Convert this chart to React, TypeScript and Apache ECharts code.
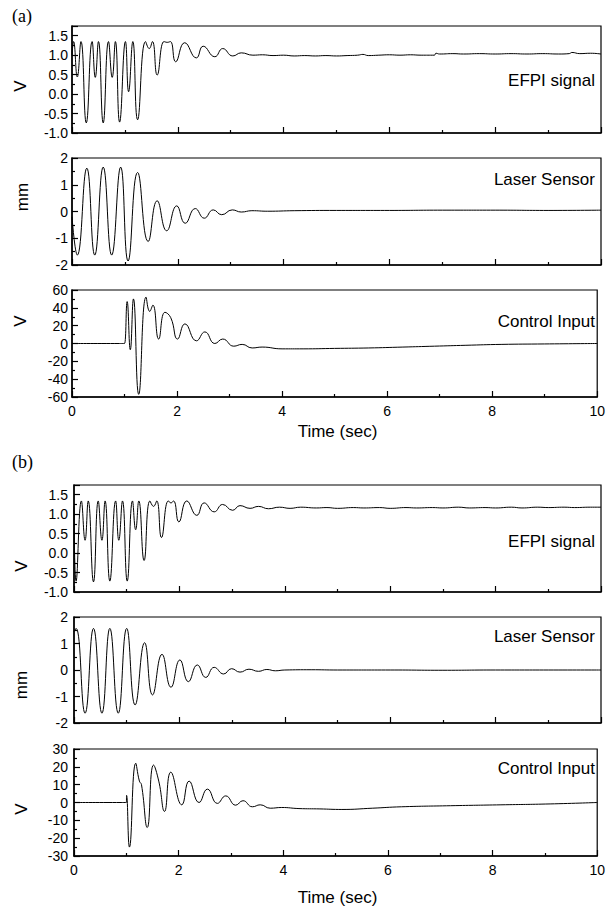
import React, { useEffect, useRef } from 'react';
import * as echarts from 'echarts';

// ---------- (a) EFPI signal ----------
const efpiA_t = [0, 0.03, 0.1, 0.17, 0.27, 0.38, 0.44, 0.5, 0.59, 0.69, 0.76, 0.82, 0.9, 1.01, 1.07, 1.15, 1.24, 1.39, 1.46, 1.52, 1.61, 1.74, 1.8, 1.86, 1.96, 2.13, 2.35, 2.48, 2.7, 2.85, 3.04, 3.2, 3.42, 3.6, 3.8, 4.0, 4.2, 4.4, 4.6, 4.8, 5.0, 5.2, 5.4, 5.5, 5.6, 5.8, 6.0, 6.2, 6.4, 6.6, 6.85, 6.88, 6.95, 7.2, 7.4, 7.7, 8.0, 8.3, 8.6, 8.9, 9.2, 9.4, 9.45, 9.6, 9.8, 10];
const efpiA_v = [1.0, 1.35, 0.44, 1.35, -0.74, 1.35, 0.43, 1.35, -0.74, 1.35, 0.43, 1.35, -0.72, 1.35, 0.06, 1.35, -0.66, 1.35, 1.17, 1.35, 0.49, 1.35, 1.33, 1.35, 0.83, 1.32, 0.93, 1.23, 0.96, 1.17, 0.98, 1.06, 1.0, 1.01, 0.99, 1.0, 0.98, 0.99, 0.98, 0.99, 0.98, 0.99, 1.0, 1.02, 0.99, 1.0, 1.01, 1.0, 1.01, 1.0, 1.0, 1.05, 1.03, 1.04, 1.03, 1.04, 1.03, 1.04, 1.03, 1.04, 1.03, 1.04, 1.07, 1.04, 1.05, 1.03];

// ---------- (a) Laser sensor ----------
const laserA_t = [0, 0.1, 0.28, 0.43, 0.59, 0.75, 0.92, 1.06, 1.24, 1.44, 1.61, 1.79, 1.98, 2.14, 2.33, 2.5, 2.67, 2.83, 3.03, 3.2, 3.4, 3.7, 4.2, 5, 6, 7, 8, 9, 10];
const laserA_v = [-0.2, -1.63, 1.62, -1.63, 1.66, -1.63, 1.66, -1.85, 1.46, -1.12, 0.4, -0.72, 0.21, -0.44, 0.11, -0.25, 0.06, -0.12, 0.06, -0.02, 0.03, 0.01, 0.03, 0.04, 0.04, 0.05, 0.05, 0.04, 0.05];

// ---------- (a) Control input ----------
const ctrlA_t = [0, 0.9, 0.98, 1.0, 1.05, 1.11, 1.17, 1.27, 1.41, 1.48, 1.54, 1.65, 1.77, 1.88, 2.01, 2.15, 2.37, 2.53, 2.72, 2.87, 3.08, 3.24, 3.43, 3.62, 4.0, 4.4, 5.0, 5.65, 6.3, 6.9, 7.5, 8.17, 9.0, 10];
const ctrlA_v = [0, 0, 0, 0, 47, -7, 50, -57, 52, 36, 43, 5, 35, 29, 5, 22, 3, 13, 0, 5, -3, -1, -5, -4, -6, -6, -5.5, -5, -4, -3, -2, -1, -0.5, 0];

// ---------- (b) EFPI signal ----------
const efpiB_t = [0, 0.04, 0.14, 0.21, 0.27, 0.37, 0.46, 0.53, 0.59, 0.68, 0.79, 0.85, 0.92, 1.01, 1.11, 1.17, 1.23, 1.33, 1.44, 1.51, 1.57, 1.66, 1.79, 1.84, 1.89, 1.99, 2.14, 2.33, 2.47, 2.66, 2.82, 3.01, 3.15, 3.34, 3.5, 3.69, 3.9, 4.1, 4.3, 4.6, 4.8, 5.0, 5.3, 5.5, 5.8, 6.0, 6.3, 6.5, 6.8, 7.0, 7.3, 7.5, 7.8, 8.0, 8.3, 8.5, 8.8, 9.0, 9.3, 9.5, 9.8, 10];
const efpiB_v = [1.2, -0.72, 1.34, 0.33, 1.34, -0.74, 1.34, 0.33, 1.34, -0.72, 1.34, 0.33, 1.34, -0.72, 1.34, 0.6, 1.34, -0.19, 1.34, 1.2, 1.34, 0.4, 1.34, 1.29, 1.34, 0.8, 1.34, 0.97, 1.29, 1.06, 1.25, 1.1, 1.22, 1.15, 1.2, 1.14, 1.18, 1.15, 1.18, 1.16, 1.17, 1.15, 1.17, 1.16, 1.17, 1.15, 1.17, 1.16, 1.17, 1.16, 1.18, 1.16, 1.17, 1.16, 1.18, 1.16, 1.18, 1.17, 1.18, 1.17, 1.18, 1.18];

// ---------- (b) Laser sensor ----------
const laserB_t = [0, 0.04, 0.21, 0.37, 0.53, 0.68, 0.84, 1.0, 1.16, 1.34, 1.49, 1.67, 1.84, 2.01, 2.17, 2.34, 2.5, 2.66, 2.84, 2.99, 3.15, 3.32, 3.5, 3.66, 3.82, 4.0, 4.5, 5, 6, 7, 8, 9, 10];
const laserB_v = [1.45, 1.57, -1.63, 1.57, -1.63, 1.57, -1.63, 1.57, -1.32, 1.03, -0.94, 0.59, -0.65, 0.38, -0.44, 0.19, -0.28, 0.1, -0.15, 0.05, -0.08, 0.03, -0.05, 0.02, -0.03, 0.0, 0.01, 0, 0, -0.01, 0, 0, 0];

// ---------- (b) Control input ----------
const ctrlB_t = [0, 0.9, 0.98, 1.0, 1.005, 1.06, 1.18, 1.25, 1.29, 1.4, 1.52, 1.62, 1.73, 1.85, 2.06, 2.2, 2.39, 2.55, 2.74, 2.9, 3.09, 3.23, 3.41, 3.56, 3.75, 3.97, 4.3, 4.7, 5.12, 5.7, 6.26, 7.2, 8.16, 9.1, 10];
const ctrlB_v = [0, 0, 0, 0, 4, -25, 22, 12, 10, -14, 21, 12, -5, 17, -1.3, 12, 0, 7.5, -0.5, 3.7, -1.5, 1, -2.4, -1.3, -3.2, -2.8, -3.4, -3.6, -3.9, -3.2, -2.4, -1.8, -1.3, -0.8, 0];

const panelLabels = ['EFPI signal', 'Laser Sensor', 'Control Input'];
const yUnits = ['V', 'mm', 'V'];
const groupLabels = ['(a)', '(b)'];
const xTitle = 'Time (sec)';

const zip = (t: number[], v: number[]) => t.map((x, i) => [x, v[i]]);

const SANS = 'Liberation Sans, Arial, Helvetica, sans-serif';
const SERIF = 'Liberation Serif, Times New Roman, serif';

type Panel = {
  left: number; top: number; width: number; height: number;
  min: number; max: number; interval: number; dec: number;
  data: number[][]; showX: boolean; labelMargin: number;
};

const panels: Panel[] = [
  { left: 72, top: 26, width: 529, height: 107, min: -1, max: 1.75, interval: 0.5, dec: 1, data: zip(efpiA_t, efpiA_v), showX: false, labelMargin: 4 },
  { left: 72, top: 158, width: 529, height: 107, min: -2, max: 2, interval: 1, dec: 0, data: zip(laserA_t, laserA_v), showX: false, labelMargin: 4 },
  { left: 72, top: 290, width: 529, height: 107, min: -60, max: 60, interval: 20, dec: 0, data: zip(ctrlA_t, ctrlA_v), showX: true, labelMargin: 4 },
  { left: 74, top: 485, width: 527, height: 107, min: -1, max: 1.75, interval: 0.5, dec: 1, data: zip(efpiB_t, efpiB_v), showX: false, labelMargin: 6 },
  { left: 74, top: 617, width: 527, height: 106, min: -2, max: 2, interval: 1, dec: 0, data: zip(laserB_t, laserB_v), showX: false, labelMargin: 6 },
  { left: 74, top: 749, width: 527, height: 107, min: -30, max: 30, interval: 10, dec: 0, data: zip(ctrlB_t, ctrlB_v), showX: true, labelMargin: 6 },
];

const textPos = [
  { label: 80, unit: 86, unitX: 20 },
  { label: 179, unit: 197, unitX: 22 },
  { label: 321, unit: 321, unitX: 20 },
  { label: 541, unit: 566, unitX: 21 },
  { label: 636, unit: 685, unitX: 21 },
  { label: 768, unit: 809, unitX: 21 },
];

function buildOption() {
  const grid = panels.map((p) => ({
    left: p.left, top: p.top, width: p.width, height: p.height,
    show: true, borderColor: '#000', borderWidth: 1.2, backgroundColor: 'transparent',
  }));
  const xAxis = panels.map((p, i) => ({
    type: 'value', gridIndex: i, min: 0, max: 10, interval: 2,
    axisLine: { show: true, onZero: false, lineStyle: { color: '#000', width: 1.5 } },
    axisTick: { show: true, inside: true, length: 6, lineStyle: { color: '#000', width: 1.2 } },
    minorTick: { show: true, splitNumber: 2, length: 3, lineStyle: { color: '#000', width: 1.2 } },
    axisLabel: { show: p.showX, color: '#000', fontSize: 14, fontFamily: SANS, margin: 7 },
    splitLine: { show: false },
  }));
  const yAxis = panels.map((p, i) => ({
    type: 'value', gridIndex: i, min: p.min, max: p.max, interval: p.interval,
    axisLine: { show: true, onZero: false, lineStyle: { color: '#000', width: 1.5 } },
    axisTick: { show: true, inside: true, length: 6, lineStyle: { color: '#000', width: 1.2 } },
    minorTick: { show: true, splitNumber: 2, length: 3, lineStyle: { color: '#000', width: 1.2 } },
    axisLabel: {
      show: true, color: '#000', fontSize: 14, fontFamily: SANS, margin: p.labelMargin,
      formatter: (v: number) => {
        const k = v / p.interval;
        return Math.abs(k - Math.round(k)) < 1e-6 ? v.toFixed(p.dec) : '';
      },
    },
    splitLine: { show: false },
  }));
  const series = panels.map((p, i) => ({
    type: 'line', xAxisIndex: i, yAxisIndex: i, data: p.data,
    showSymbol: false, symbol: 'none', smooth: 0.5, clip: true,
    lineStyle: { color: '#000', width: 1 },
  }));
  const graphic: any[] = [];
  panels.forEach((p, i) => {
    graphic.push({
      type: 'text', x: 595, y: textPos[i].label,
      style: { text: panelLabels[i % 3], fontSize: 17, fontFamily: SANS, fill: '#000', align: 'right', verticalAlign: 'middle' },
    });
    graphic.push({
      type: 'text', x: textPos[i].unitX, y: textPos[i].unit, rotation: Math.PI / 2,
      style: { text: yUnits[i % 3], fontSize: 17, fontFamily: SANS, fill: '#000', align: 'center', verticalAlign: 'middle' },
    });
  });
  graphic.push({ type: 'text', x: 12, y: 16, style: { text: groupLabels[0], fontSize: 18, fontFamily: SERIF, fill: '#000', verticalAlign: 'middle' } });
  graphic.push({ type: 'text', x: 12, y: 462, style: { text: groupLabels[1], fontSize: 18, fontFamily: SERIF, fill: '#000', verticalAlign: 'middle' } });
  graphic.push({ type: 'text', x: 337.5, y: 431, style: { text: xTitle, fontSize: 17, fontFamily: SANS, fill: '#000', align: 'center', verticalAlign: 'middle' } });
  graphic.push({ type: 'text', x: 337.5, y: 897, style: { text: xTitle, fontSize: 17, fontFamily: SANS, fill: '#000', align: 'center', verticalAlign: 'middle' } });

  return { animation: false, backgroundColor: '#fff', grid, xAxis, yAxis, series, graphic };
}

export default function App() {
  const ref = useRef<HTMLDivElement>(null);
  useEffect(() => {
    const chart = echarts.init(ref.current!, null, { renderer: 'svg' });
    chart.setOption(buildOption() as any);
    return () => chart.dispose();
  }, []);
  return (
    <div
      ref={ref}
      style={{ position: 'absolute', left: 0, top: 0, width: 608, height: 910, background: '#fff' }}
    />
  );
}
